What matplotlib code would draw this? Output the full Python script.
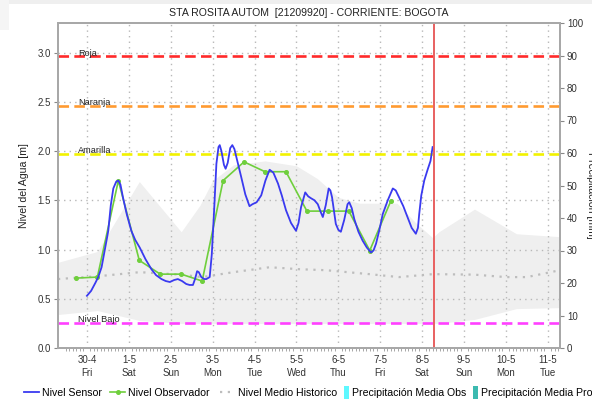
import matplotlib
matplotlib.use("Agg")
import matplotlib.pyplot as plt
from matplotlib.lines import Line2D
from matplotlib.patches import Patch, Rectangle
from matplotlib.legend_handler import HandlerPatch
import numpy as np

plt.rcParams['font.family'] = ['Liberation Sans', 'DejaVu Sans']

# ---------------- data ----------------
title = "STA ROSITA AUTOM  [21209920] - CORRIENTE: BOGOTA"
tick_days = list(range(12))
tick_labels = ["30-4\nFri", "1-5\nSat", "2-5\nSun", "3-5\nMon", "4-5\nTue", "5-5\nWed",
               "6-5\nThu", "7-5\nFri", "8-5\nSat", "9-5\nSun", "10-5\nMon", "11-5\nTue"]

sensor_t = [0.00, 0.10, 0.20, 0.27, 0.35, 0.45, 0.51, 0.57, 0.63, 0.70, 0.75, 0.80, 0.86, 0.95,
            1.06, 1.15, 1.26, 1.40, 1.54, 1.65, 1.78, 1.88, 1.98, 2.08, 2.17, 2.27, 2.37, 2.45,
            2.53, 2.58, 2.63, 2.67, 2.73, 2.80, 2.85, 2.93, 2.98, 3.03, 3.09, 3.14, 3.17, 3.21,
            3.27, 3.31, 3.36, 3.42, 3.47, 3.52, 3.60, 3.68, 3.78, 3.88, 3.95, 4.05, 4.16, 4.26,
            4.36, 4.45, 4.56, 4.65, 4.75, 4.87, 4.99, 5.05, 5.11, 5.21, 5.28, 5.35, 5.43, 5.51,
            5.58, 5.63, 5.70, 5.77, 5.81, 5.85, 5.90, 5.94, 6.00, 6.06, 6.14, 6.22, 6.26, 6.32,
            6.38, 6.48, 6.58, 6.68, 6.78, 6.84, 6.90, 6.98, 7.06, 7.18, 7.30, 7.37, 7.45, 7.55,
            7.65, 7.75, 7.85, 7.90, 7.93, 7.98, 8.05, 8.13, 8.20, 8.25]
sensor_v = [0.53, 0.58, 0.66, 0.72, 0.82, 1.05, 1.19, 1.45, 1.62, 1.69, 1.70, 1.66, 1.53, 1.36,
            1.19, 1.10, 1.02, 0.90, 0.80, 0.74, 0.70, 0.68, 0.67, 0.69, 0.70, 0.68, 0.65, 0.64,
            0.64, 0.70, 0.78, 0.77, 0.72, 0.70, 0.70, 0.72, 0.95, 1.35, 1.87, 2.04, 2.06, 2.00,
            1.86, 1.82, 1.88, 2.03, 2.06, 2.02, 1.88, 1.74, 1.56, 1.44, 1.46, 1.48, 1.55, 1.70,
            1.81, 1.78, 1.67, 1.55, 1.40, 1.27, 1.19, 1.27, 1.43, 1.58, 1.54, 1.52, 1.50, 1.46,
            1.38, 1.33, 1.45, 1.62, 1.60, 1.53, 1.38, 1.26, 1.20, 1.18, 1.30, 1.46, 1.48, 1.42,
            1.31, 1.18, 1.09, 1.02, 0.97, 0.99, 1.06, 1.20, 1.36, 1.50, 1.62, 1.60, 1.53, 1.44,
            1.33, 1.22, 1.16, 1.22, 1.36, 1.55, 1.70, 1.81, 1.90, 2.04]

obs_t = [-0.25, 0.25, 0.75, 1.25, 1.75, 2.25, 2.75, 3.25, 3.75, 4.25, 4.75, 5.25, 5.75, 6.25, 6.75, 7.25]
obs_v = [0.71, 0.72, 1.70, 0.89, 0.75, 0.75, 0.68, 1.70, 1.89, 1.79, 1.79, 1.39, 1.39, 1.39, 0.99, 1.49]

mean_t = [-0.69, 0.30, 1.26, 2.25, 2.75, 3.50, 4.36, 5.07, 5.70, 6.74, 7.45, 8.26, 9.24, 10.0, 10.5, 11.29]
mean_v = [0.70, 0.73, 0.77, 0.745, 0.72, 0.77, 0.82, 0.80, 0.79, 0.75, 0.72, 0.75, 0.745, 0.72, 0.72, 0.79]

band_t = [-0.69, 0.25, 1.25, 2.25, 2.70, 3.00, 3.50, 4.25, 5.00, 5.50, 6.00, 6.50, 7.40, 7.85, 8.25,
          8.40, 9.25, 10.25, 11.29]
band_hi = [0.87, 0.98, 1.69, 1.18, 1.45, 1.70, 1.86, 1.90, 1.85, 1.72, 1.53, 1.47, 1.47, 1.27, 1.12,
           1.18, 1.41, 1.16, 1.13]
band_lo = [0.34, 0.38, 0.28, 0.25, 0.25, 0.25, 0.25, 0.25, 0.25, 0.25, 0.25, 0.25, 0.25, 0.25, 0.25,
           0.25, 0.29, 0.40, 0.41]

thr_names = ["Roja", "Naranja", "Amarilla", "Nivel Bajo"]
thr_values = [2.965, 2.46, 1.97, 0.255]
thr_colors = ["#ff2a2a", "#ff9a30", "#f2f200", "#ff40ff"]

now_day = 8.28

legend_labels = ["Nivel Sensor", "Nivel Observador", "Nivel Medio Historico",
                 "Precipitación Media Obs", "Precipitación Media Pronosticada"]

# ---------------- figure ----------------
fig = plt.figure(figsize=(5.92, 4.0), dpi=100)
fig.patches.append(Rectangle((0, 1 - 4 / 400), 1, 4 / 400, transform=fig.transFigure,
                             facecolor="#efefef", edgecolor="none", zorder=-10))
fig.patches.append(Rectangle((0, 1 - 30 / 400), 9 / 592, 30 / 400, transform=fig.transFigure,
                             facecolor="#f5f5f5", edgecolor="none", zorder=-10))

ax = fig.add_axes([58 / 592, 1 - 348 / 400, (560 - 58) / 592, (348 - 23) / 400])
ax.set_xlim(-0.69, 11.29)
ax.set_ylim(0, 3.3)

ax.fill_between(band_t, band_lo, band_hi, color="#efefef", lw=0, zorder=1)
ax.grid(True, color="#b8b8b8", linestyle=(0, (1, 3)), linewidth=1.0, zorder=2)
ax.plot(mean_t, mean_v, color="#bdbdbd", linestyle=(0, (1, 2.5)), linewidth=1.6, zorder=3)

for name, val, col in zip(thr_names, thr_values, thr_colors):
    ax.axhline(val, color=col, linestyle=(0, (4, 2)), linewidth=1.9, zorder=4)
    ax.text(-0.21, val + 0.005, name, fontsize=6.6, color="#222222", va="baseline", ha="left", zorder=5)

sensor_line, = ax.plot(sensor_t, sensor_v, color="#3a3af0", linewidth=1.3, zorder=7)
obs_line, = ax.plot(obs_t, obs_v, color="#6fcf3c", linewidth=1.2, marker="o", markersize=2.6, zorder=6)
ax.axvline(now_day, color="#e86060", linewidth=1.4, zorder=8)

ax.set_xticks(tick_days)
ax.set_xticklabels(tick_labels, fontsize=7, color="#333333", linespacing=1.35)
ax.set_xticks(np.arange(-0.5, 11.3, 1 / 12), minor=True)
ax.set_yticks(np.arange(0, 3.01, 0.5))
ax.set_yticklabels([f"{v:.1f}" for v in np.arange(0, 3.01, 0.5)], fontsize=7, color="#333333")
ax.tick_params(axis="both", which="major", length=3, width=0.8, color="#888888", pad=2)
ax.tick_params(axis="x", which="major", length=0, pad=5)
ax.tick_params(axis="x", which="minor", length=2, width=0.6, color="#999999")
for s in ax.spines.values():
    s.set_color("#a8a8a8")
    s.set_linewidth(1.3)
ax.set_ylabel("Nivel del Agua [m]", fontsize=7.6, color="#222222")
ax.yaxis.set_label_coords(-0.058, 0.5)

ax2 = ax.twinx()
ax2.set_ylim(0, 100)
ax2.set_yticks(np.arange(0, 101, 10))
ax2.set_yticklabels([str(v) for v in range(0, 101, 10)], fontsize=7, color="#333333")
ax2.tick_params(axis="y", length=3, width=0.8, color="#888888", pad=2)
for s in ax2.spines.values():
    s.set_color("#a8a8a8")
    s.set_linewidth(1.3)
ax2.set_ylabel("Precipitacion [mm]", fontsize=7.6, color="#222222", rotation=270, va="center")
ax2.yaxis.set_label_coords(1.062, 0.47)

fig.text(0.522, 0.968, title, fontsize=7.6, ha="center", va="center", color="#222222")

# ---------------- legend ----------------
def narrow_rect(legend, orig_handle, xdescent, ydescent, width, height, fontsize):
    return Rectangle((-xdescent, -ydescent - 2), width, height + 4)

legend_handles = [
    Line2D([], [], color="#3a3af0", lw=1.3),
    Line2D([], [], color="#6fcf3c", lw=1.2, marker="o", markersize=2.6),
    Line2D([], [], color="#bdbdbd", lw=1.6, linestyle=(0, (1, 2.5))),
    Patch(facecolor="#5ef8ff", edgecolor="none"),
    Patch(facecolor="#3cbab0", edgecolor="none"),
]
legend_x_px = [24, 110, 220, 344, 473]
for h, lab, xp in zip(legend_handles, legend_labels, legend_x_px):
    is_patch = isinstance(h, Patch)
    lg = fig.legend([h], [lab], loc="center left", bbox_to_anchor=(xp / 592, 7 / 400),
                    frameon=False, fontsize=7.6, borderpad=0, borderaxespad=0,
                    handlelength=0.45 if is_patch else 1.45,
                    handleheight=0.8 if is_patch else 0.7,
                    handletextpad=0.35 if is_patch else 0.25,
                    handler_map={Patch: HandlerPatch(patch_func=narrow_rect)})

fig.savefig("out.png", dpi=100)
